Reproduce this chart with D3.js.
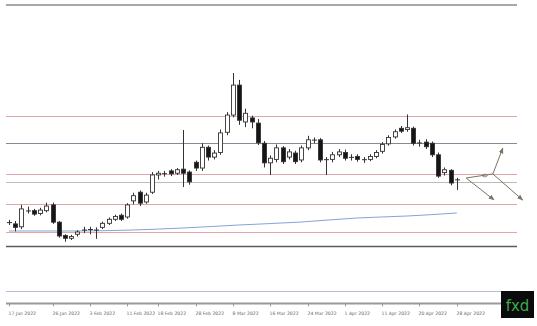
<!DOCTYPE html>
<html>
<head>
<meta charset="utf-8">
<script src="https://cdn.jsdelivr.net/npm/d3@7"></script>
<style>
  body { margin: 0; background: #fff; }
  svg { display: block; }
</style>
</head>
<body>
<svg id="chart" width="537" height="326"></svg>
<script>
// daily bars, 17 Jan - 28 Apr 2022
var days = [
	"2022-01-17","2022-01-18","2022-01-19","2022-01-20","2022-01-21","2022-01-24","2022-01-25","2022-01-26","2022-01-27","2022-01-28","2022-01-31",
	"2022-02-01","2022-02-02","2022-02-03","2022-02-04","2022-02-07","2022-02-08","2022-02-09","2022-02-10","2022-02-11","2022-02-14",
	"2022-02-15","2022-02-16","2022-02-17","2022-02-18","2022-02-21","2022-02-22","2022-02-23","2022-02-24","2022-02-25","2022-02-28",
	"2022-03-01","2022-03-02","2022-03-03","2022-03-04","2022-03-07","2022-03-08","2022-03-09","2022-03-10","2022-03-11","2022-03-14",
	"2022-03-15","2022-03-16","2022-03-17","2022-03-18","2022-03-21","2022-03-22","2022-03-23","2022-03-24","2022-03-25","2022-03-28",
	"2022-03-29","2022-03-30","2022-03-31","2022-04-01","2022-04-04","2022-04-05","2022-04-06","2022-04-07","2022-04-08","2022-04-11",
	"2022-04-12","2022-04-13","2022-04-14","2022-04-18","2022-04-19","2022-04-20","2022-04-21","2022-04-22","2022-04-25","2022-04-26",
	"2022-04-27","2022-04-28"
];

var open = [1810,1808,1803,1830,1831,1826,1831,1841,1811,1788,1783,
	1790,1797,1798,1797,1802,1809,1816,1823,1820,1848,
	1863,1846,1863,1893,1895,1900,1896,1903,1898,1915,
	1905,1941,1924,1932,1967,1997,2049,1985,1992,1983,
	1948,1914,1920,1940,1924,1931,1919,1940,1953,1954,
	1919,1920,1928,1932,1923,1925,1920,1920,1925,1934,
	1947,1959,1974,1972,1974,1948,1950,1948,1928,1897,
	1901,1884];
var high = [1815,1813,1841,1838,1834,1836,1845,1845,1813,1790,1789,
	1797,1803,1803,1802,1812,1819,1824,1826,1844,1862,
	1866,1862,1898,1900,1900,1903,1905,1971,1901,1918,
	1948,1944,1936,1972,2002,2070,2058,2008,1996,1990,
	1952,1927,1946,1943,1938,1935,1944,1961,1958,1957,
	1924,1933,1938,1937,1929,1929,1924,1929,1936,1950,
	1962,1972,1978,1998,1977,1954,1955,1951,1932,1906,
	1903,1888];
var low = [1806,1795,1799,1826,1822,1823,1828,1808,1784,1777,1780,
	1786,1792,1790,1782,1799,1806,1813,1813,1817,1842,
	1839,1843,1860,1885,1890,1891,1893,1872,1876,1900,
	1900,1918,1920,1928,1962,1993,1980,1976,1974,1945,
	1906,1893,1915,1912,1920,1912,1915,1936,1948,1915,
	1893,1915,1924,1918,1918,1916,1914,1917,1922,1930,
	1944,1956,1966,1968,1944,1942,1938,1924,1888,1892,
	1875,1867];
var close = [1810.5,1802,1834,1831,1825,1832,1839,1811,1787,1783,1786,
	1794,1797.5,1798.5,1797.5,1809,1816,1821,1816,1841,1857,
	1844,1858,1893,1896,1895.5,1895,1902,1896,1881,1905,
	1941,1924,1931,1966,1997,2049,1988,2000,1985,1949,
	1914,1922,1940,1916,1933,1916,1940,1954,1954,1919,
	1920,1928,1933,1922,1924,1920,1919,1925,1932,1946,
	1958,1968,1969,1975,1948,1949,1942,1928,1891,1902,
	1879,1885];

// slow moving average, read at a few bars
var maIdx = [0, 10, 20, 28, 37, 47, 56, 64, 72];
var maVal = [1795.7, 1795.7, 1797.4, 1800.9, 1806.1, 1811.3, 1818.3, 1821.7, 1826.9];

// horizontal levels
var levelPrice = [1995.3, 1948.5, 1894.7, 1880.8, 1842.6, 1794, 1769.7, 1691.5];
var levelKind = ["res", "grid", "res", "light", "res", "res", "dark", "blue"];

var tickDays = ["2022-01-17","2022-01-26","2022-02-03","2022-02-11","2022-02-18","2022-02-28",
	"2022-03-08","2022-03-16","2022-03-24","2022-04-01","2022-04-11","2022-04-20","2022-04-28"];

// projected paths (bar index, price)
var pathA = [[73.5, 1887.7], [77.8, 1894.7], [79.4, 1939.8]];
var pathB = [[77.8, 1894.7], [82.6, 1849.5]];
var pathC = [[73.5, 1887.7], [78.0, 1849.5]];

var svg = d3.select("#chart");
var left = 6, right = 517;

var x = d3.scaleLinear().domain([0, days.length - 1]).range([9, 456.8]);
var y = d3.scaleLinear().domain([1691.5, 2070]).range([291, 73]);

var levelColor = { res: "#dfa7aa", grid: "#868a96", light: "#bcbcbc", dark: "#5c5c5c", blue: "#b7bfd6" };
var levelWidth = { res: 1, grid: 1.2, light: 1, dark: 1.6, blue: 1.2 };

// frame
svg.append("line")
	.attr("x1", left).attr("x2", right).attr("y1", 5).attr("y2", 5)
	.attr("stroke", "#a8a8a8").attr("stroke-width", 2);

var lv = svg.append("g").attr("id", "levels");
levelPrice.forEach(function (p, i) {
	lv.append("line")
		.attr("x1", left).attr("x2", right)
		.attr("y1", Math.round(y(p)) + 0.5).attr("y2", Math.round(y(p)) + 0.5)
		.attr("stroke", levelColor[levelKind[i]])
		.attr("stroke-width", levelWidth[levelKind[i]]);
});

// moving average
var maLine = d3.line()
	.x(function (d) { return x(d[0]); })
	.y(function (d) { return y(d[1]); })
	.curve(d3.curveMonotoneX);
svg.append("path")
	.datum(maIdx.map(function (d, i) { return [d, maVal[i]]; }))
	.attr("d", maLine)
	.attr("fill", "none")
	.attr("stroke", "#86a3d8")
	.attr("stroke-width", 1);

// candles
var bars = svg.append("g").attr("id", "candles");
days.forEach(function (d, i) {
	var cx = Math.round(x(i)) + 0.5;
	var o = open[i], c = close[i];
	var g = bars.append("g");
	g.append("line")
		.attr("x1", cx).attr("x2", cx)
		.attr("y1", y(high[i])).attr("y2", y(low[i]))
		.attr("stroke", "#333").attr("stroke-width", 1);
	var top = y(Math.max(o, c)), bot = y(Math.min(o, c));
	if (bot - top < 1.2) {
		g.append("line")
			.attr("x1", cx - 2.5).attr("x2", cx + 2.5)
			.attr("y1", (top + bot) / 2).attr("y2", (top + bot) / 2)
			.attr("stroke", "#333").attr("stroke-width", 1);
	} else {
		g.append("rect")
			.attr("x", cx - 2).attr("width", 4)
			.attr("y", top).attr("height", bot - top)
			.attr("fill", c >= o ? "#fff" : "#151515")
			.attr("stroke", "#333").attr("stroke-width", 0.9);
	}
});

// projection arrows
var defs = svg.append("defs");
defs.append("marker")
	.attr("id", "tip")
	.attr("viewBox", "0 0 10 10")
	.attr("refX", 9).attr("refY", 5)
	.attr("markerWidth", 6).attr("markerHeight", 6)
	.attr("orient", "auto")
	.append("path")
	.attr("d", "M0,1L10,5L0,9z")
	.attr("fill", "#7b7565");

var arrowLine = d3.line()
	.x(function (d) { return x(d[0]); })
	.y(function (d) { return y(d[1]); });
[pathA, pathB, pathC].forEach(function (p) {
	svg.append("path")
		.attr("d", arrowLine(p))
		.attr("fill", "none")
		.attr("stroke", "#7b7565")
		.attr("stroke-width", 1)
		.attr("marker-end", "url(#tip)");
});
svg.append("ellipse")
	.attr("cx", x(76.5)).attr("cy", y(1892))
	.attr("rx", 2.5).attr("ry", 1.3)
	.attr("fill", "none").attr("stroke", "#7b7565").attr("stroke-width", 0.8);

// time axis
var axisY = 303.5;
svg.append("line")
	.attr("x1", left).attr("x2", right).attr("y1", axisY).attr("y2", axisY)
	.attr("stroke", "#9a9a9a").attr("stroke-width", 2);

var fmt = d3.timeFormat("%-d %b %Y");
var parse = d3.timeParse("%Y-%m-%d");
var ax = svg.append("g").attr("id", "xaxis");
tickDays.forEach(function (t) {
	var i = days.indexOf(t);
	var tx = Math.round(x(i)) + 0.5;
	ax.append("line")
		.attr("x1", tx).attr("x2", tx).attr("y1", axisY).attr("y2", axisY + 3)
		.attr("stroke", "#888").attr("stroke-width", 0.8);
	ax.append("text")
		.attr("x", tx - 1).attr("y", 314.5)
		.attr("font-family", "DejaVu Sans, sans-serif")
		.attr("font-size", 4.6)
		.attr("fill", "#666")
		.text(fmt(parse(t)));
});

// logo
svg.append("rect")
	.attr("x", 501).attr("y", 291).attr("width", 33).attr("height", 27)
	.attr("fill", "#0b0b0b");
svg.append("text")
	.attr("x", 517.5).attr("y", 310.5)
	.attr("text-anchor", "middle")
	.attr("font-family", "DejaVu Sans, sans-serif")
	.attr("font-size", 15)
	.attr("fill", "#3fa84a")
	.text("fxd");
</script>
</body>
</html>
